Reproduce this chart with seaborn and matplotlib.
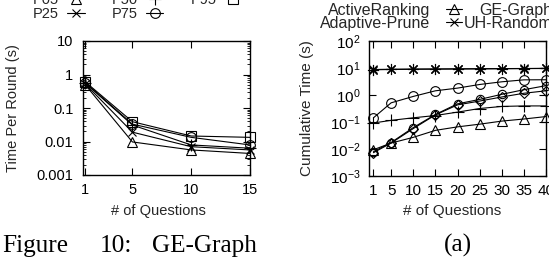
import numpy as np
import pandas as pd
import matplotlib
matplotlib.use("Agg")
import matplotlib.pyplot as plt
import seaborn as sns
from matplotlib.ticker import FixedLocator, FixedFormatter, NullLocator, NullFormatter, LogLocator

# ---------------- data ----------------
# left panel: time per round (GE-Graph percentiles)
questions_round = [1, 5, 10, 15]
p05 = [0.49, 0.0097, 0.0056, 0.0044]
p25 = [0.52, 0.019, 0.0070, 0.0056]
p50 = [0.55, 0.031, 0.0079, 0.0063]
p75 = [0.57, 0.033, 0.0133, 0.0079]
p95 = [0.60, 0.039, 0.0146, 0.0133]
left_ticks = [1, 5, 10, 15]
left_ytick_vals = [0.001, 0.01, 0.1, 1, 10]
left_ytick_labels = ["0.001", "0.01", "0.1", "1", "10"]

# right panel: cumulative time
questions_cum = [1, 5, 10, 15, 20, 25, 30, 35, 40]
active_ranking = [0.0094, 0.0166, 0.027, 0.049, 0.066, 0.083, 0.108, 0.129, 0.159]
adaptive_prune = [8.8, 9.0, 9.1, 9.2, 9.3, 9.4, 9.5, 9.6, 9.7]
uh_random = [8.6, 8.8, 9.0, 9.1, 9.2, 9.3, 9.4, 9.5, 9.6]
ge_graph = [0.143, 0.513, 0.885, 1.43, 1.80, 2.45, 3.08, 3.64, 3.67]
other_plus = [0.092, 0.115, 0.143, 0.174, 0.232, 0.316, 0.377, 0.394, 0.394]
other_diamond = [0.0073, 0.0166, 0.057, 0.183, 0.43, 0.596, 0.845, 1.16, 1.43]
other_dotcircle = [0.0079, 0.0174, 0.062, 0.19, 0.47, 0.686, 1.06, 1.57, 2.22]
right_ticks = [1, 5, 10, 15, 20, 25, 30, 35, 40]

# ---------------- style ----------------
sns.set_theme(style="ticks")
plt.rcParams["font.family"] = ["Liberation Sans", "DejaVu Sans"]
plt.rcParams["mathtext.fontset"] = "custom"
plt.rcParams["mathtext.rm"] = "Liberation Sans"
plt.rcParams["mathtext.it"] = "Liberation Sans:italic"
plt.rcParams["mathtext.bf"] = "Liberation Sans:bold"
plt.rcParams["axes.unicode_minus"] = False

W, H = 549, 257
fig = plt.figure(figsize=(W / 100, H / 100), dpi=100)
fig.patch.set_facecolor("white")


def axrect(l, t, r, b):
    return [l / W, 1 - b / H, (r - l) / W, (b - t) / H]


ax1 = fig.add_axes(axrect(83, 41, 250, 175))
ax2 = fig.add_axes(axrect(369, 41, 546, 176))


def draw(ax, x, y, marker, ms, label):
    sns.lineplot(x=x, y=y, ax=ax, color="black", linewidth=0.8, marker=marker,
                 markersize=ms, markerfacecolor="none", markeredgecolor="black",
                 markeredgewidth=0.8, label=label, legend=False, clip_on=False,
                 estimator=None, sort=False)
    return ax.get_lines()[-1]


# left
h_p05 = draw(ax1, questions_round, p05, "^", 7, "P05")
h_p25 = draw(ax1, questions_round, p25, "x", 6, "P25")
h_p50 = draw(ax1, questions_round, p50, "+", 8, "P50")
h_p75 = draw(ax1, questions_round, p75, "o", 7, "P75")
h_p95 = draw(ax1, questions_round, p95, "s", 6.5, "P95")

# right
h_ar = draw(ax2, questions_cum, active_ranking, "^", 7, "ActiveRanking")
h_ap = draw(ax2, questions_cum, adaptive_prune, "x", 6, "Adaptive-Prune")
h_uh = draw(ax2, questions_cum, uh_random, (8, 2, 0), 8, "UH-Random")
h_ge = draw(ax2, questions_cum, ge_graph, "o", 7, "GE-Graph")
draw(ax2, questions_cum, other_plus, "+", 8, "_other_plus")
draw(ax2, questions_cum, other_diamond, "D", 5.5, "_other_diamond")
draw(ax2, questions_cum, other_dotcircle, "o", 6, "_other_dotcircle")

# axes formatting
for ax, fs in ((ax1, 10.5), (ax2, 11)):
    ax.set_yscale("log")
    ax.set_facecolor("white")
    for s in ax.spines.values():
        s.set_visible(True)
        s.set_color("black")
        s.set_linewidth(1.0)
    ax.tick_params(which="both", direction="in", top=True, right=True,
                   bottom=True, left=True, colors="black", labelsize=fs)
    ax.tick_params(which="major", length=5, width=0.8)
    ax.tick_params(which="minor", length=2.5, width=0.6)
    ax.xaxis.set_minor_locator(NullLocator())
    ax.yaxis.set_minor_locator(LogLocator(base=10, subs=np.arange(2, 10)))
    ax.yaxis.set_minor_formatter(NullFormatter())
    ax.grid(False)

ax1.set_xlim(0.8, 15)
ax1.set_ylim(0.001, 10)
ax1.xaxis.set_major_locator(FixedLocator(left_ticks))
ax1.xaxis.set_major_formatter(FixedFormatter([str(t) for t in left_ticks]))
ax1.yaxis.set_major_locator(FixedLocator(left_ytick_vals))
ax1.yaxis.set_major_formatter(FixedFormatter(left_ytick_labels))
ax1.tick_params(axis="x", pad=6)
ax1.tick_params(axis="y", pad=7)

ax2.set_xlim(0, 40)
ax2.set_ylim(1e-3, 1e2)
ax2.xaxis.set_major_locator(FixedLocator(right_ticks))
ax2.xaxis.set_major_formatter(FixedFormatter([str(t) for t in right_ticks]))
ax2.yaxis.set_major_locator(LogLocator(base=10, numticks=10))
ax2.tick_params(axis="x", pad=6)
ax2.tick_params(axis="y", pad=6)

ax1.set_ylabel("Time Per Round (s)", fontsize=10.5, va="center")
ax1.yaxis.set_label_coords((13 - 83) / 167, 0.5)
ax1.set_xlabel("# of Questions", fontsize=10.5, va="center")
ax1.xaxis.set_label_coords((158 - 83) / 167, (175 - 211) / 134)

ax2.set_ylabel("Cumulative Time (s)", fontsize=11, va="center")
ax2.yaxis.set_label_coords((307 - 369) / 177, 0.5)
ax2.set_xlabel("# of Questions", fontsize=11, va="center")
ax2.xaxis.set_label_coords((452 - 369) / 177, (176 - 211) / 135)

# legends (gnuplot-style: text then sample)
fig.legend([h_p05, h_p25, h_p50, h_p75, h_p95], ["P05", "P25", "P50", "P75", "P95"],
           ncol=3, loc="lower left", bbox_to_anchor=(33 / W, 1 - 21 / H),
           frameon=False, markerfirst=False, fontsize=10.5, handlelength=1.2,
           handletextpad=0.55, columnspacing=1.85, labelspacing=0.0,
           borderpad=0, borderaxespad=0)

fig.legend([h_ar, h_ap, h_ge, h_uh], ["ActiveRanking", "Adaptive-Prune", "GE-Graph", "UH-Random"],
           ncol=2, loc="lower left", bbox_to_anchor=(320 / W, 1 - 31 / H),
           frameon=False, markerfirst=False, fontsize=11.5, handlelength=1.0,
           handletextpad=1.0, columnspacing=0.1, labelspacing=-0.12,
           borderpad=0, borderaxespad=0)

# captions
cap_kw = dict(family=["Liberation Serif", "DejaVu Serif"], fontsize=18.2, va="baseline", color="black")
fig.text(2 / W, 1 - 252 / H, "Figure", ha="left", **cap_kw)
fig.text(100 / W, 1 - 252 / H, "10:", ha="left", **cap_kw)
fig.text(152 / W, 1 - 252 / H, "GE-Graph", ha="left", **cap_kw)
fig.text(458 / W, 1 - 252 / H, "(a)", ha="center", **cap_kw)

fig.savefig("out.png", dpi=100, facecolor="white")
